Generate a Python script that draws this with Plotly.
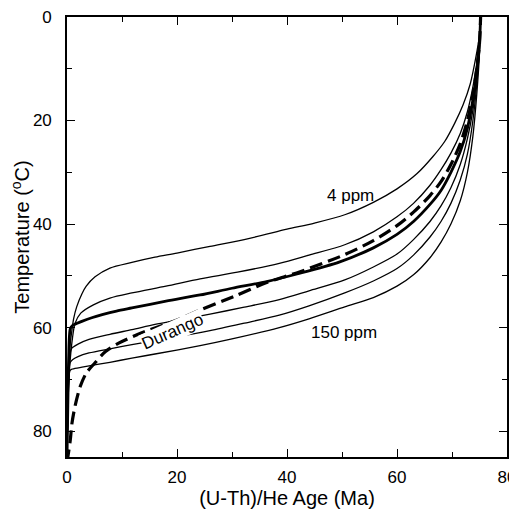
import plotly.graph_objects as go

# He age (Ma) vs temperature (°C), one curve per eU
ppm4_age = [0, 0.15, 0.35, 0.6, 0.9, 1.2, 1.76, 2.7, 3.5, 5.1, 7.8, 11.8, 16, 20, 26, 33,
            40, 45, 50.5, 55.7, 60, 63.6, 66.5, 68.7, 70.5, 72, 73.3, 74.3, 75, 75.2]
ppm4_temp = [85, 75, 68, 63, 60.5, 58.3, 56, 53.5, 52, 50.2, 48.5, 47.4, 46.4, 45.6, 44.3, 42.8,
             41, 39.8, 38.2, 35.8, 33.2, 30.3, 27, 24, 20.5, 17, 13, 8, 3.5, 0]

c2_age = [0, 0.15, 0.35, 0.6, 1, 1.45, 2.5, 4.8, 7.8, 11.8, 18, 24.2, 31, 38.6, 44, 50.5,
          55.7, 60, 63, 66, 68, 69.8, 71.5, 72.8, 73.8, 74.5, 75, 75.2]
c2_temp = [85, 76, 70, 66, 62, 59.2, 57.2, 55.6, 54.3, 53.3, 52, 50.6, 49.3, 47.6, 46, 44,
           41.5, 38.6, 36, 32.5, 29.5, 26.3, 22.5, 18.3, 13.5, 9, 4.5, 0]

thick_age = [0, 0.15, 0.3, 0.6, 1, 2.7, 4.5, 6.4, 9, 11.8, 18, 24.2, 30, 36.3, 42, 49.6,
             55.7, 60, 63, 66, 68, 69.8, 71.5, 72.8, 73.8, 74.5, 75, 75.2]
thick_temp = [85, 75, 66, 60.2, 59.6, 58.8, 58.1, 57.5, 56.8, 56.2, 54.9, 53.7, 52.4, 51.1, 49.6, 47.3,
              44.6, 42, 39.5, 36.2, 33.5, 30, 26, 21.5, 16, 10.5, 5, 0]

dur_age = [0, 0.3, 0.6, 0.9, 1.5, 2.4, 3.5, 5.1, 7, 9.4, 13.6, 19.9, 24.2, 30.3, 36.3, 42.4,
           50.5, 55.7, 60, 63, 66, 68, 69.8, 71.5, 72.8, 73.8, 74.5, 75, 75.2]
dur_temp = [86, 84, 81.7, 78.5, 75, 71.4, 68.8, 66.8, 64.6, 63, 61, 58.6, 56.6, 54, 51.3, 49.2,
            45.9, 43.2, 40.3, 37.7, 34.5, 31.8, 28.5, 24.5, 20, 15, 10, 5, 0]

c4_age = [0, 0.2, 0.55, 0.85, 2, 4, 7.8, 11.8, 16, 20, 26, 32, 38.6, 44, 50.5, 55.7,
          60, 63, 66, 68, 69.8, 71.5, 72.8, 73.8, 74.5, 75, 75.2]
c4_temp = [85, 72, 65, 64, 63.2, 62.3, 61.3, 60.4, 59.4, 58.6, 57.4, 56.1, 54.6, 52.9, 50.8, 48.3,
           45.8, 43, 39.5, 36.5, 33, 28.5, 23.5, 18, 11.5, 5.5, 0]

c5_age = [0, 0.2, 0.55, 1, 2, 4, 7.8, 11.8, 16, 20, 26, 32, 38.6, 44, 50.5, 55.7,
          60, 63, 66, 68, 69.8, 71.5, 72.8, 73.8, 74.5, 75, 75.2]
c5_temp = [85, 74, 66.8, 66.2, 65.6, 64.9, 64.1, 63.3, 62.5, 61.8, 60.6, 59.2, 57.6, 55.8, 53.3, 51,
           48.6, 46, 42.5, 39.5, 36, 31.5, 26.5, 20, 13, 6, 0]

ppm150_age = [0, 0.2, 0.55, 1, 3, 7.8, 11.8, 16, 24.2, 30, 38.6, 44, 50.5, 55.7,
              60, 63, 66, 68, 69.8, 71.5, 72.8, 73.8, 74.5, 75, 75.2]
ppm150_temp = [85, 76, 68.3, 68, 67.6, 66.7, 65.9, 65.1, 63.5, 62.2, 60, 58.3, 56, 54.2,
               52, 49.8, 46.5, 43.5, 40, 35.5, 30, 23, 15, 7, 0]

TICKS = [0, 20, 40, 60, 80]
FONT = "Liberation Sans, Arial, sans-serif"

fig = go.Figure()
for xs, ys in [(ppm4_age, ppm4_temp), (c2_age, c2_temp), (c4_age, c4_temp),
               (c5_age, c5_temp), (ppm150_age, ppm150_temp)]:
    fig.add_trace(go.Scatter(x=xs, y=ys, mode="lines",
                             line=dict(color="black", width=1.3, shape="spline", smoothing=0.8),
                             showlegend=False, hoverinfo="skip"))
fig.add_trace(go.Scatter(x=thick_age, y=thick_temp, mode="lines",
                         line=dict(color="black", width=2.8, shape="spline", smoothing=0.8),
                         showlegend=False))
fig.add_trace(go.Scatter(x=dur_age, y=dur_temp, mode="lines",
                         line=dict(color="black", width=3.2, dash="13px,6px",
                                   shape="spline", smoothing=0.8),
                         showlegend=False))

# curve labels
fig.add_annotation(x=51.5, y=34.5, text="4 ppm", showarrow=False,
                   font=dict(size=17, color="black"))
fig.add_annotation(x=50.3, y=61.0, text="150 ppm", showarrow=False,
                   font=dict(size=17, color="black"))
fig.add_annotation(x=19.2, y=60.8, text="Durango", showarrow=False, textangle=-24,
                   bgcolor="white", borderpad=0, font=dict(size=17, color="black"))

axis = dict(showline=True, linecolor="black", linewidth=1.6, mirror="allticks",
            ticks="inside", ticklen=8, tickwidth=1.4, tickcolor="black",
            tickvals=TICKS, showgrid=False, zeroline=False, automargin=False,
            ticklabeloverflow="allow",
            minor=dict(ticks="inside", ticklen=5, tickwidth=1.2, tickcolor="black", dtick=10),
            tickfont=dict(size=17, color="black"))

# page body adds an 8px offset, so the figure is sized to fit the window
fig.update_layout(
    width=509, height=506, template=None,
    paper_bgcolor="white", plot_bgcolor="white",
    font=dict(family=FONT, color="black"),
    margin=dict(l=59, r=10, t=9, b=57),
    xaxis=dict(axis, range=[0, 80], ticklabelstandoff=4,
               title=dict(text="(U-Th)/He Age (Ma)", font=dict(size=20), standoff=2)),
    yaxis=dict(axis, range=[85, 0], ticklabelstandoff=10,
               title=dict(text="Temperature (<sup>o</sup>C)", font=dict(size=20), standoff=4)),
)

fig.write_html("out.html")
